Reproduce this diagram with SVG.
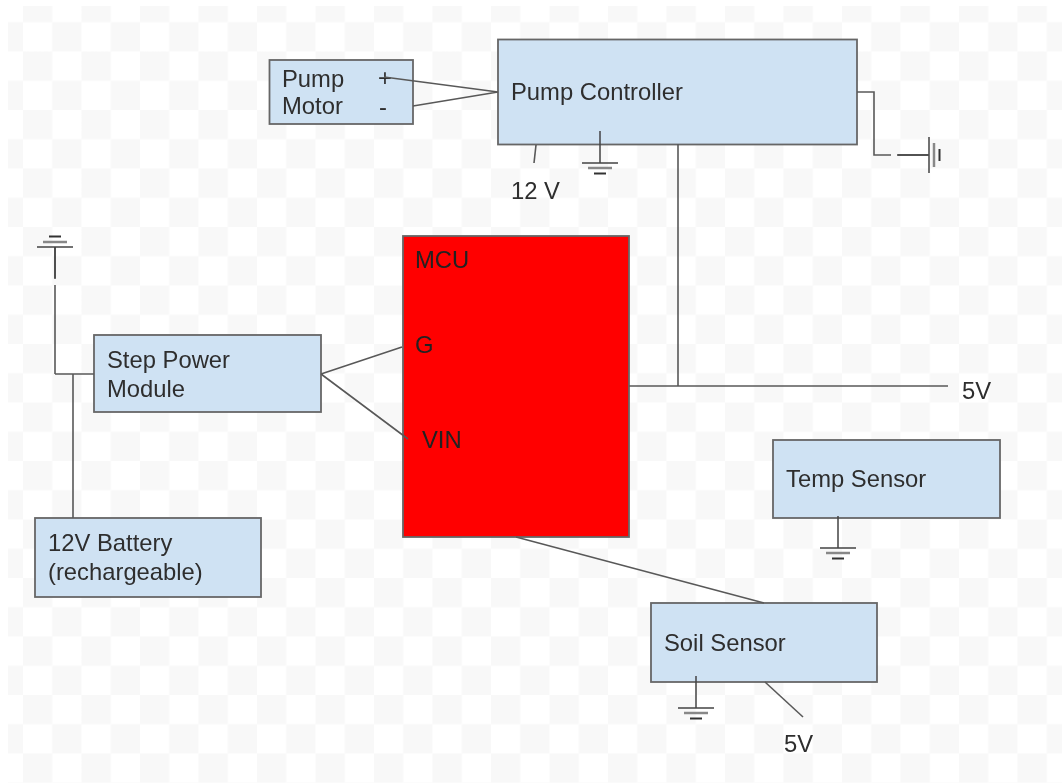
<svg xmlns="http://www.w3.org/2000/svg" width="1062" height="783" viewBox="0 0 1062 783">
<style>
text{font-family:"Liberation Sans",Arial,sans-serif;font-size:23.8px;fill:#2e2e2e}
.box{fill:#cfe2f3;stroke:#666;stroke-width:1.8}
.w{fill:none;stroke:#595959;stroke-width:1.6}
.g{fill:none;stroke:#444;stroke-width:1.5}
</style>
<defs>
<pattern id="chk" x="23" y="-7" width="58.5" height="58.5" patternUnits="userSpaceOnUse">
<rect width="29.25" height="29.25" fill="#f8f8f8"/>
<rect x="29.25" y="29.25" width="29.25" height="29.25" fill="#f8f8f8"/>
</pattern>
<g id="gnd"><path class="g" d="M0 0V32M-18 32H18"/><path d="M-12 37H12" stroke="#888" stroke-width="2.5"/><path d="M-6 42.500H6" stroke="#333" stroke-width="2"/></g>
<filter id="soft" filterUnits="userSpaceOnUse" x="0" y="0" width="1062" height="783"><feGaussianBlur stdDeviation="0.5"/></filter>
</defs>
<rect width="1062" height="783" fill="#fff"/>
<rect x="8" y="6" width="1054" height="777" fill="url(#chk)"/>
<g filter="url(#soft)">
<g id="pump-motor"><rect class="box" x="269.500" y="60" width="143.500" height="64"/><text x="282" y="87">Pump</text><text x="282" y="114">Motor</text><text x="378" y="86">+</text><text x="379" y="115">-</text></g>
<g id="pump-controller"><rect class="box" x="498" y="39.500" width="359" height="105"/><text x="511" y="100">Pump Controller</text></g>
<g id="mcu"><rect x="403" y="236" width="226" height="301" fill="#f00" stroke="#666" stroke-width="1.800"/><text x="415" y="268" style="fill:#222">MCU</text><text x="415" y="353" style="fill:#222">G</text><text x="422" y="448" style="fill:#222">VIN</text></g>
<g id="step-power-module"><rect class="box" x="94" y="335" width="227" height="77"/><text x="107" y="368">Step Power</text><text x="107" y="397">Module</text></g>
<g id="battery"><rect class="box" x="35" y="518" width="226" height="79"/><text x="48" y="551">12V Battery</text><text x="48" y="580">(rechargeable)</text></g>
<g id="temp-sensor"><rect class="box" x="773" y="440" width="227" height="78"/><text x="786" y="487">Temp Sensor</text></g>
<g id="soil-sensor"><rect class="box" x="651" y="603" width="226" height="79"/><text x="664" y="651">Soil Sensor</text></g>
<g id="connectors">
<path class="w" d="M384 77L498 92M413 106L498 92"/>
<path class="w" d="M536 145L534 163"/>
<path class="w" d="M857 92H874V155H891M898 155H928"/>
<path class="w" d="M678 144V386M629 386H948"/>
<path class="w" d="M321 374L402 347M321 374L408 439"/>
<path class="w" d="M73 518V374M55 374H94"/>
<path class="w" d="M55 374V285M55 278V247"/>
<path class="w" d="M516 537L764 603"/>
<path class="w" d="M765 682L803 717"/>
</g>
<g id="gnd-controller"><use href="#gnd" x="600" y="131"/></g>
<g id="gnd-pump-right"><use href="#gnd" transform="translate(897 155) rotate(-90)"/></g>
<g id="gnd-step"><use href="#gnd" transform="translate(55 279) rotate(180)"/></g>
<g id="gnd-temp"><use href="#gnd" x="838" y="516"/></g>
<g id="gnd-soil"><use href="#gnd" x="696" y="676"/></g>
<g id="label-12v"><text x="511" y="199">12 V</text></g>
<g id="label-5v-right"><text x="962" y="399">5V</text></g>
<g id="label-5v-bottom"><text x="784" y="752">5V</text></g>
</g>
</svg>
